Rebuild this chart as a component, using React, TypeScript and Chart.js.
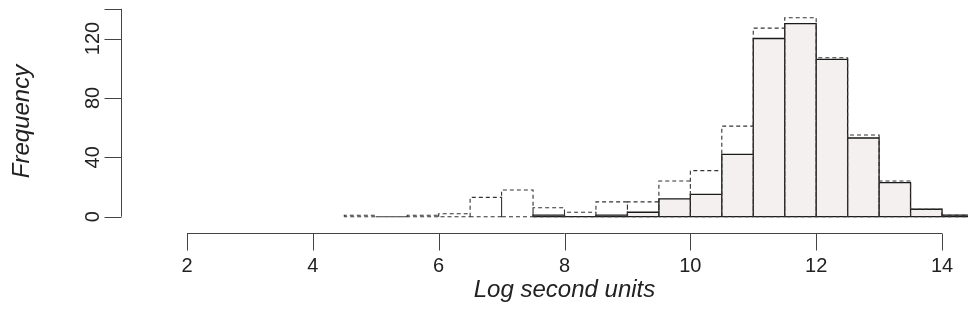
import React, { useEffect, useRef } from "react";
import { Chart, registerables } from "chart.js";

Chart.register(...registerables);

// ---- data ----
const binWidth = 0.5;
const dashedBinStarts = [4.5, 5, 5.5, 6, 6.5, 7, 7.5, 8, 8.5, 9, 9.5, 10, 10.5, 11, 11.5, 12, 12.5, 13, 13.5, 14];
const dashedCounts = [1, 0, 1, 2, 13, 18, 6, 3, 10, 10, 24, 31, 61, 127, 134, 107, 55, 24, 5, 1];
const solidBinStarts = [7.5, 8, 8.5, 9, 9.5, 10, 10.5, 11, 11.5, 12, 12.5, 13, 13.5, 14];
const solidCounts = [1, 0, 1, 3, 12, 15, 42, 120, 130, 106, 53, 23, 5, 1];
const xTicks = [2, 4, 6, 8, 10, 12, 14];
const yTicks = [0, 40, 80, 120];
const yAxisTop = 140;
const xLabel = "Log second units";
const yLabel = "Frequency";

function rectPath(starts: number[], counts: number[]) {
  const pts: { x: number; y: number | null }[] = [];
  starts.forEach((s, i) => {
    const e = s + binWidth;
    const h = counts[i];
    pts.push({ x: s, y: 0 }, { x: s, y: h }, { x: e, y: h }, { x: e, y: 0 }, { x: s, y: 0 }, { x: s, y: null });
  });
  return pts;
}

const axesPlugin = {
  id: "rAxes",
  afterDraw(chart: any) {
    const ctx = chart.ctx;
    const xs = chart.scales.x;
    const ys = chart.scales.y;
    const y0 = ys.getPixelForValue(0);
    const axisY = Math.round(y0 + 16) + 0.5;
    const axisX = Math.round(xs.getPixelForValue(xTicks[0]) - 66) + 0.5;
    ctx.save();
    ctx.strokeStyle = "#444";
    ctx.lineWidth = 1;
    ctx.setLineDash([]);
    // x axis
    ctx.beginPath();
    ctx.moveTo(xs.getPixelForValue(xTicks[0]), axisY);
    ctx.lineTo(xs.getPixelForValue(xTicks[xTicks.length - 1]), axisY);
    xTicks.forEach((t) => {
      const px = Math.round(xs.getPixelForValue(t)) + 0.5;
      ctx.moveTo(px, axisY);
      ctx.lineTo(px, axisY + 17);
    });
    // y axis
    ctx.moveTo(axisX, ys.getPixelForValue(0));
    ctx.lineTo(axisX, ys.getPixelForValue(yAxisTop));
    [...yTicks, yAxisTop].forEach((t) => {
      const py = Math.round(ys.getPixelForValue(t)) + 0.5;
      ctx.moveTo(axisX, py);
      ctx.lineTo(axisX - 17, py);
    });
    ctx.stroke();

    ctx.fillStyle = "#222";
    ctx.font = '20px "Liberation Sans", Arial, sans-serif';
    ctx.textAlign = "center";
    ctx.textBaseline = "alphabetic";
    xTicks.forEach((t) => {
      ctx.fillText(String(t), xs.getPixelForValue(t), axisY + 38.5);
    });
    yTicks.forEach((t) => {
      ctx.save();
      ctx.translate(axisX - 22.5, ys.getPixelForValue(t));
      ctx.rotate(-Math.PI / 2);
      ctx.fillText(String(t), 0, 0);
      ctx.restore();
    });
    ctx.font = 'italic 24px "Liberation Sans", Arial, sans-serif';
    ctx.fillText(xLabel, (xs.getPixelForValue(xTicks[0]) + xs.getPixelForValue(xTicks[xTicks.length - 1])) / 2, 297);
    ctx.save();
    ctx.translate(29, 121.5);
    ctx.rotate(-Math.PI / 2);
    ctx.fillText(yLabel, 0, 0);
    ctx.restore();
    ctx.restore();
  },
};

export default function App() {
  const ref = useRef<HTMLCanvasElement | null>(null);
  useEffect(() => {
    if (!ref.current) return;
    const chart = new Chart(ref.current, {
      type: "bar",
      data: {
        datasets: [
          {
            type: "bar",
            data: solidBinStarts.map((s, i) => ({ x: s + binWidth / 2, y: solidCounts[i] })),
            backgroundColor: "#f3f0ef",
            borderWidth: 0,
            barPercentage: 1,
            categoryPercentage: 1,
            grouped: false,
            order: 3,
          } as any,
          {
            type: "line",
            data: rectPath(solidBinStarts, solidCounts),
            borderColor: "#1a1a1a",
            borderWidth: 1.3,
            pointRadius: 0,
            spanGaps: false,
            tension: 0,
            fill: false,
            order: 2,
          } as any,
          {
            type: "line",
            data: rectPath(dashedBinStarts, dashedCounts),
            borderColor: "#333",
            borderWidth: 1.1,
            borderDash: [4, 3],
            pointRadius: 0,
            spanGaps: false,
            tension: 0,
            fill: false,
            order: 1,
          } as any,
        ],
      },
      options: {
        responsive: false,
        animation: false,
        layout: { padding: 0 },
        plugins: { legend: { display: false }, tooltip: { enabled: false } },
        scales: {
          x: { type: "linear", min: -0.972, max: 14.413, display: false, offset: false, grid: { offset: false } },
          y: { type: "linear", min: -72.26, max: 145.93, display: false },
        },
      } as any,
      plugins: [axesPlugin],
    });
    return () => chart.destroy();
  }, []);
  return (
    <div style={{ position: "fixed", left: 0, top: 0, width: 968, height: 324, background: "#fff" }}>
      <canvas ref={ref} width={968} height={324} style={{ display: "block", width: 968, height: 324 }} />
    </div>
  );
}
